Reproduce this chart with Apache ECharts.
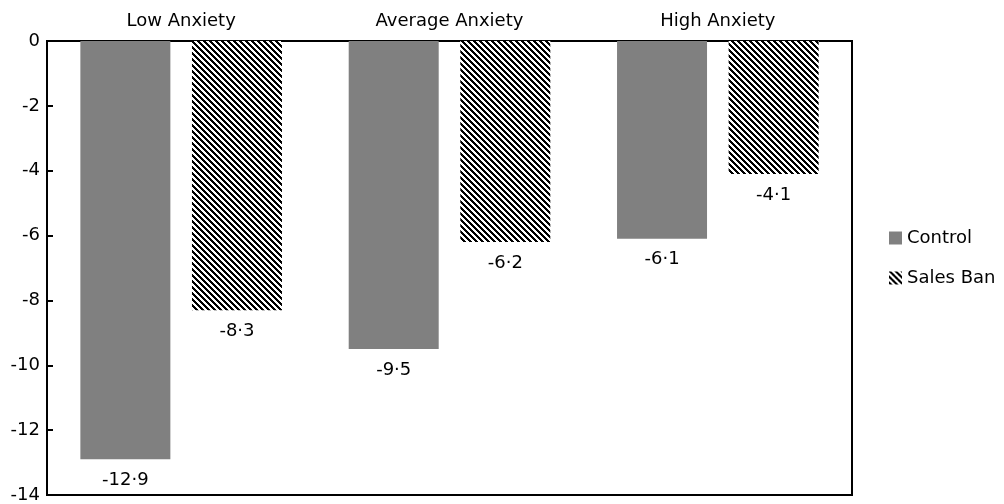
<!DOCTYPE html>
<html>
<head>
<meta charset="utf-8">
<script src="https://cdn.jsdelivr.net/npm/echarts@6/dist/echarts.min.js"></script>
<style>
  html, body { margin: 0; padding: 0; background: #fff; }
  #chart { width: 1004px; height: 504px; }
</style>
</head>
<body>
<div id="chart"></div>
<script>
const categories = ['Low Anxiety', 'Average Anxiety', 'High Anxiety'];
const controlValues = [-12.9, -9.5, -6.1];
const salesBanValues = [-8.3, -6.2, -4.1];
const yTicks = { min: -14, max: 0, interval: 2 };

// diagonal hatch tile, stripes running top-left to bottom-right
function makeHatch() {
  const size = 6;
  const c = document.createElement('canvas');
  c.width = size;
  c.height = size;
  const ctx = c.getContext('2d');
  const img = ctx.createImageData(size, size);
  for (let y = 0; y < size; y++) {
    for (let x = 0; x < size; x++) {
      const k = ((x - y) % size + size) % size;
      const v = k < 3 ? 0 : 255;
      const i = (y * size + x) * 4;
      img.data[i] = v;
      img.data[i + 1] = v;
      img.data[i + 2] = v;
      img.data[i + 3] = 255;
    }
  }
  ctx.putImageData(img, 0, 0);
  return c;
}

const font = '"DejaVu Sans", sans-serif';
const labelFmt = p => String(p.value).replace('.', '\u00b7');

const chart = echarts.init(document.getElementById('chart'));
chart.setOption({
  animation: false,
  textStyle: { fontFamily: font },
  grid: {
    left: 47,
    right: 152,
    top: 41,
    bottom: 8,
    show: true,
    borderColor: '#000',
    borderWidth: 2
  },
  legend: {
    orient: 'vertical',
    left: 889,
    top: 229,
    padding: 0,
    itemWidth: 13,
    itemHeight: 13,
    itemGap: 22,
    icon: 'rect',
    textStyle: { fontSize: 18, color: '#000', fontFamily: font },
    data: ['Control', 'Sales Ban']
  },
  xAxis: {
    type: 'category',
    position: 'top',
    data: categories,
    axisLine: { lineStyle: { color: '#000', width: 2 } },
    axisTick: { show: false },
    axisLabel: { fontSize: 18, color: '#000', margin: 11 }
  },
  yAxis: {
    type: 'value',
    min: yTicks.min,
    max: yTicks.max,
    interval: yTicks.interval,
    axisLine: { show: true, lineStyle: { color: '#000', width: 2 } },
    axisTick: { show: true, inside: true, length: 6, lineStyle: { color: '#000', width: 2 } },
    splitLine: { show: false },
    axisLabel: { fontSize: 18, color: '#000', margin: 7 }
  },
  series: [
    {
      name: 'Control',
      type: 'bar',
      data: controlValues,
      barWidth: 90,
      barGap: '24%',
      itemStyle: { color: '#808080' },
      label: {
        show: true,
        position: 'bottom',
        distance: 12,
        fontSize: 18,
        color: '#000',
        formatter: labelFmt
      }
    },
    {
      name: 'Sales Ban',
      type: 'bar',
      data: salesBanValues,
      barWidth: 90,
      barGap: '24%',
      itemStyle: { color: { image: makeHatch(), repeat: 'repeat' } },
      label: {
        show: true,
        position: 'bottom',
        distance: 12,
        fontSize: 18,
        color: '#000',
        formatter: labelFmt
      }
    }
  ]
});
</script>
</body>
</html>
